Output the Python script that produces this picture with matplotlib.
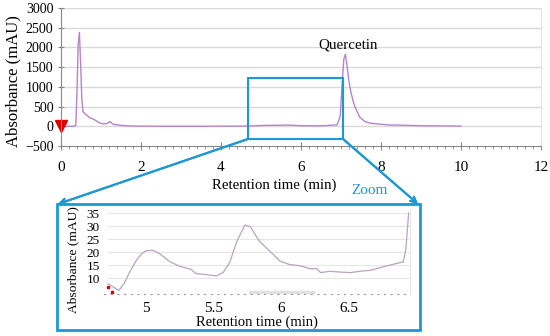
import matplotlib
matplotlib.use("Agg")
import matplotlib.pyplot as plt
from matplotlib.patches import Rectangle
from matplotlib.ticker import MultipleLocator

plt.rcParams['font.family'] = ['Liberation Serif', 'DejaVu Serif']

# full chromatogram (min, mAU)
t_main = [0.0, 0.30, 0.37, 0.40, 0.43, 0.46, 0.49, 0.52, 0.55, 0.62, 0.72, 0.85, 0.95,
          1.05, 1.15, 1.22, 1.30, 1.40, 1.55, 1.80, 2.5, 3.5, 4.7, 5.0, 5.7, 6.0, 6.5,
          6.90, 6.98, 7.03, 7.07, 7.11, 7.15, 7.19, 7.24, 7.30, 7.35, 7.47, 7.60, 7.72,
          8.0, 8.2, 9.0, 10.0]
a_main = [0, 0, 20, 900, 2100, 2380, 1600, 700, 370, 300, 220, 160, 90,
          60, 70, 120, 50, 35, 20, 5, 0, 0, 5, 20, 30, 15, 12,
          35, 250, 1100, 1700, 1830, 1550, 1200, 900, 650, 490, 230, 120, 80,
          50, 35, 15, 5]

# zoomed section (min, mAU)
t_zoom = [4.72, 4.76, 4.80, 4.84, 4.88, 4.93, 4.97, 5.00, 5.05, 5.10, 5.18, 5.25, 5.33,
          5.37, 5.45, 5.52, 5.57, 5.62, 5.67, 5.73, 5.77, 5.84, 5.92, 5.99, 6.06,
          6.14, 6.21, 6.26, 6.29, 6.36, 6.43, 6.51, 6.58, 6.66, 6.75, 6.85, 6.90,
          6.92, 6.94]
a_zoom = [7.8, 6.5, 5.2, 8.0, 12.3, 16.9, 19.5, 20.5, 20.7, 19.4, 16.2, 14.5, 13.4,
          11.7, 11.3, 10.8, 12.1, 16.2, 24.0, 30.4, 29.8, 24.0, 20.1, 16.5, 15.2,
          14.7, 13.6, 13.6, 12.1, 12.6, 12.3, 12.1, 12.6, 13.0, 14.3, 15.6, 16.2,
          21.4, 35.0]
red_t = [4.72, 4.75]
red_a = [6.5, 4.6]

W, H = 550, 336
fig = plt.figure(figsize=(W / 100, H / 100), dpi=100)
blue = '#1b98d5'
purple = '#b784cc'
grid_c = '#d9d9d9'


def box(x0, y0, x1, y1):
    # pixel box (top-left origin) -> figure fraction
    return [x0 / W, 1 - y1 / H, (x1 - x0) / W, (y1 - y0) / H]


# main chart
ax = fig.add_axes(box(61, 8, 541, 146))
ax.plot(t_main, a_main, color=purple, lw=1.0)
ax.plot([0], [0], marker='v', color='#e00000', markersize=9, ls='none', clip_on=False)
ax.set_xlim(0, 12)
ax.set_ylim(-500, 3000)
ax.xaxis.set_major_locator(MultipleLocator(2))
ax.xaxis.set_minor_locator(MultipleLocator(0.2))
ax.yaxis.set_major_locator(MultipleLocator(500))
for v in range(0, 3001, 500):
    ax.axhline(v, color=grid_c, lw=1.0, zorder=0)
for s in ['left', 'bottom']:
    ax.spines[s].set_color('#888888')
ax.spines['top'].set_visible(False)
ax.spines['right'].set_color('#e4e4e4')
ax.tick_params(axis='x', which='major', direction='inout', length=6, pad=8,
               labelsize=11, color='#888888')
ax.tick_params(axis='x', which='minor', direction='out', length=2.5, color='#888888')
ax.tick_params(axis='y', direction='inout', length=5, pad=3, labelsize=10,
               color='#888888')
ax.set_xlabel('Retention time (min)', fontsize=10.7)
ax.xaxis.set_label_coords(0.444, -0.283)
ax.xaxis.label.set_va('center')
ax.set_ylabel('Absorbance (mAU)', fontsize=12)
ax.yaxis.set_label_coords(-0.1, 0.471)
ax.yaxis.label.set_va('center')
ax.text(7.18, 1900, 'Quercetin', fontsize=10.8, ha='center', va='bottom')

# zoom window in main chart
ax.add_patch(Rectangle((4.67, -320), 7.04 - 4.67, 1220 + 320, fill=False,
                       edgecolor=blue, lw=1.5, zorder=5))

# inset frame and arrows
fig.patches.append(Rectangle((57 / W, 1 - 330 / H), 363 / W, 126 / H, fill=False,
                             edgecolor=blue, lw=2, transform=fig.transFigure))
for (x0, y0), (x1, y1) in [((248, 139), (58, 204)), ((343, 139), (418, 204))]:
    fig.add_artist(plt.annotate('', xy=(x1 / W, 1 - y1 / H), xytext=(x0 / W, 1 - y0 / H),
                                xycoords='figure fraction', textcoords='figure fraction',
                                arrowprops=dict(arrowstyle='->', color=blue, lw=1.5,
                                                shrinkA=0, shrinkB=0)))
fig.text(370 / W, 1 - 191 / H, 'Zoom', color=blue, fontsize=11, ha='center', va='center')

# inset chart
ax2 = fig.add_axes(box(104, 210, 410, 294))
ax2.plot(t_zoom, a_zoom, color='#b9a3bf', lw=0.9)
ax2.plot(red_t, red_a, ls='none', marker='s', markersize=2, color='#e00000')
ax2.plot([5.77, 6.23], [4.6, 4.6], color='#e0e0e0', lw=2.5)
ax2.set_xlim(4.69, 6.95)
ax2.set_ylim(3.85, 36.2)
ax2.set_xticks([5, 5.5, 6, 6.5])
ax2.set_xticklabels(['5', '5.5', '6', '6.5'])
ax2.set_yticks([10, 15, 20, 25, 30, 35])
for v in [10, 15, 20, 25, 30, 35]:
    ax2.plot([4.72, 6.94], [v, v], color='#e6e6e6', lw=0.8, zorder=0)
ax2.spines['left'].set_visible(False)
ax2.spines['top'].set_visible(False)
ax2.spines['right'].set_color('#e6e6e6')
ax2.spines['bottom'].set_color('#999999')
ax2.spines['bottom'].set_linestyle((0, (1, 5)))
ax2.tick_params(axis='x', length=0, pad=6, labelsize=11)
ax2.tick_params(axis='y', length=0, pad=3, labelsize=9.5)
ax2.set_xlabel('Retention time (min)', fontsize=10.5)
ax2.xaxis.set_label_coords(0.5, -0.333)
ax2.xaxis.label.set_va('center')
ax2.set_ylabel('Absorbance (mAU)', fontsize=9.7)
ax2.yaxis.set_label_coords(-0.101, 0.405)
ax2.yaxis.label.set_va('center')

fig.savefig('out.png', dpi=100)
